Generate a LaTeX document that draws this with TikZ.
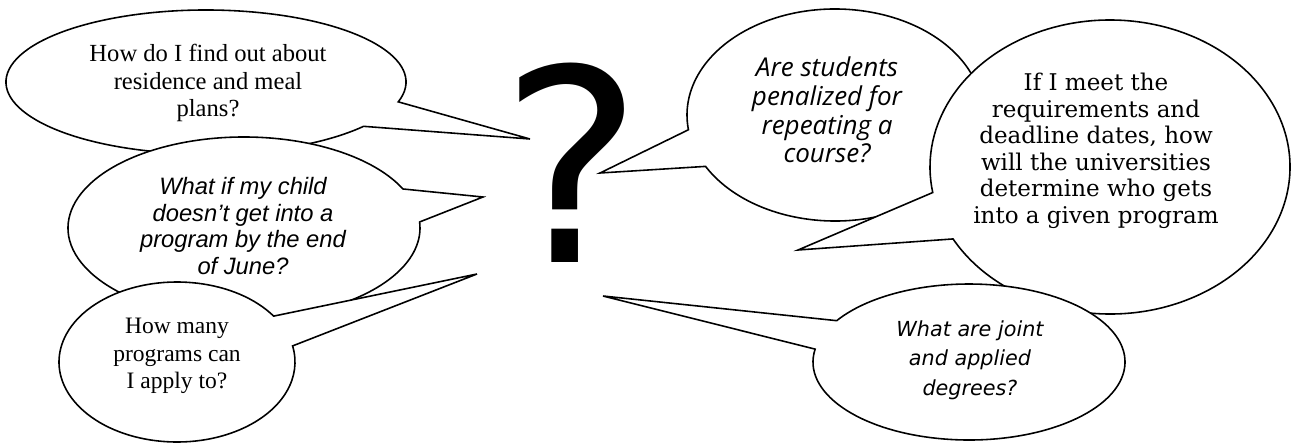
\documentclass[tikz,border=0pt]{standalone}
\usepackage{fontspec}
\setmainfont{Liberation Serif}
\newfontfamily\timesfont{Liberation Serif}
\newfontfamily\arialfont{Liberation Sans}
\newfontfamily\georgiafont{DejaVu Serif}
\newfontfamily\tahomafont{DejaVu Sans}
\newfontfamily\comicfont{Open Sans}
\tikzset{
  bubble/.style={draw=black, fill=white, line width=0.9pt, line join=miter},
  cambriatext/.style={align=center, inner sep=0pt, font=\timesfont\fontsize{14}{15.9}\selectfont},
  ariatext/.style={align=center, inner sep=0pt, font=\arialfont\itshape\fontsize{13.5}{15.3}\selectfont},
  timestext/.style={align=center, inner sep=0pt, font=\timesfont\fontsize{13.4}{15.6}\selectfont},
  comictext/.style={align=center, inner sep=0pt, font=\comicfont\itshape\fontsize{14.8}{16.4}\selectfont},
  georgiatext/.style={align=center, inner sep=0pt, font=\georgiafont\fontsize{13.1}{15.1}\selectfont},
  tahomatext/.style={align=center, inner sep=0pt, font=\tahomafont\itshape\fontsize{11.8}{16.7}\selectfont},
  bigmark/.style={inner sep=0pt, anchor=base, font=\tahomafont\fontsize{153}{160}\selectfont}
}

\begin{document}
\begin{tikzpicture}[x=0.02cm, y=0.02cm]
  \useasboundingbox (0,0) rectangle (1298,444);
  \coordinate (tipRes) at (530,305);
  \coordinate (tipChild) at (483,247);
  \coordinate (tipMany) at (477,170);
  \coordinate (tipPenal) at (600,271);
  \coordinate (tipMeet) at (798,194);
  \coordinate (tipJoint) at (603,148);

  \draw[bubble] (206,362) ++(-16:200 and 72) arc[start angle=-16, end angle=322, x radius=200, y radius=72] -- (tipRes) -- cycle;
  \node[cambriatext] (resText) at (208,361) {How do I find out about\\residence and meal\\plans?};

  \draw[bubble] (244,216) ++(25.4:176 and 91) arc[start angle=25.4, end angle=363.8, x radius=176, y radius=91] -- (tipChild) -- cycle;
  \node[ariatext] (childText) at (243,218) {What if my child\\doesn’t get into a\\program by the end\\of June?};

  \draw[bubble] (177,82) ++(35:118 and 80) arc[start angle=35, end angle=371.6, x radius=118, y radius=80] -- (tipMany) -- cycle;
  \node[timestext] (manyText) at (177,88) {How many\\programs can\\I apply to?};

  \draw[bubble] (835,329) ++(209:148 and 106) arc[start angle=209, end angle=548, x radius=148, y radius=106] -- (tipPenal) -- cycle;
  \node[comictext] (penalText) at (827,334) {Are students\\penalized for\\repeating a\\course?};

  \draw[bubble] (1110,277) ++(209.3:180 and 147) arc[start angle=209.3, end angle=550, x radius=180, y radius=147] -- (tipMeet) -- cycle;
  \node[georgiatext] (meetText) at (1096,293) {If I meet the\\requirements and\\deadline dates, how\\will the universities\\determine who gets\\into a given program};

  \draw[bubble] (969,82) ++(170.5:156 and 78) arc[start angle=170.5, end angle=508, x radius=156, y radius=78] -- (tipJoint) -- cycle;
  \node[tahomatext] (jointText) at (970,84) {What are joint\\and applied\\degrees?};

  \node[bigmark] (qmark) at (572,182) {?};
\end{tikzpicture}
\end{document}
